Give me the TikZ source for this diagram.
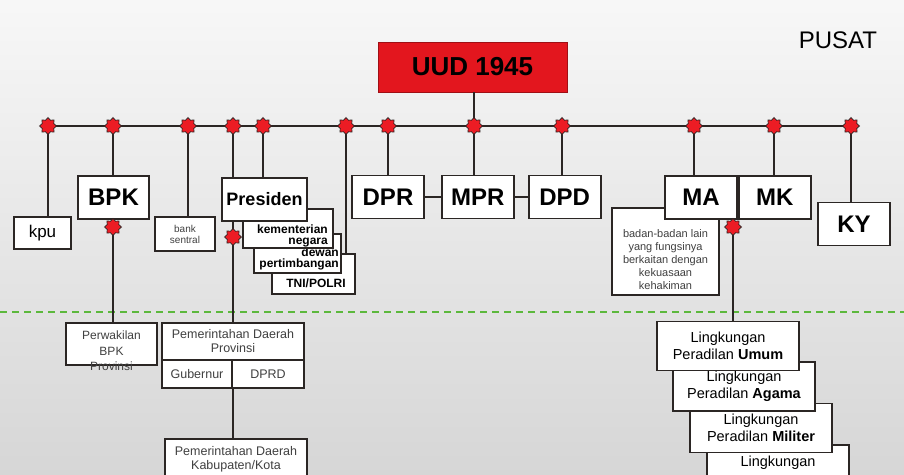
\documentclass[tikz,border=0pt]{standalone}
\usepackage{fontspec}
\setmainfont{Liberation Sans}
\usetikzlibrary{shapes.geometric, positioning}
\definecolor{uudred}{HTML}{E3161E}
\definecolor{dotred}{HTML}{EC1C24}
\definecolor{zonegreen}{HTML}{5CB83C}
\definecolor{linedark}{HTML}{2B2624}
\tikzset{
    link/.style={
        draw=linedark, line width=2.2pt
    },
    box/.style={
        rectangle, draw=linedark, line width=1.8pt, fill=white,
        inner sep=2pt, text centered
    },
    organ/.style={
        box, minimum width=72pt, minimum height=43pt,
        font=\fontsize{24}{28}\selectfont\bfseries
    },
    smallbox/.style={
        box, align=center, text=black!75,
        font=\fontsize{12.5}{14}\selectfont
    },
    courtbox/.style={
        box, minimum width=142pt, minimum height=49pt, align=center,
        font=\fontsize{14.5}{17.5}\selectfont
    },
    subtext/.style={
        inner sep=0pt, align=right, font=\fontsize{12}{10.5}\selectfont\bfseries
    },
    dot/.style={
        star, star points=8, star point ratio=1.35, minimum size=17pt,
        inner sep=0pt, fill=dotred, draw=linedark, line width=0.7pt
    },
    zoneline/.style={
        draw=zonegreen, line width=1.6pt, dash pattern=on 7pt off 5pt
    }
}

\begin{document}
\begin{tikzpicture}[x=1pt, y=-1pt]

    \useasboundingbox (0,0) rectangle (904,474);
    \clip (0,0) rectangle (904,474);
    \shade[top color=black!3, bottom color=black!16] (0,0) rectangle (904,474);

    \coordinate (zl) at (0,312);
    \coordinate (zr) at (904,312);
    \draw[zoneline] (zl) -- (zr);

    \node[box, fill=uudred, draw=uudred!70!black, line width=0.8pt,
          minimum width=189pt, minimum height=50pt,
          font=\fontsize{26}{30}\selectfont\bfseries] (uud) at (472.5,67) {UUD 1945};
    \node[font=\fontsize{24}{28}\selectfont] (pusat) at (838,40) {PUSAT};

    \foreach \name/\x in {b1/48, b2/113, b3/188, b4/233, b5/263, b6/346,
                          b7/388, b8/474, b9/562, b10/694, b11/774, b12/851}
        \coordinate (\name) at (\x,126);

    % left side
    \node[box, minimum width=57pt, minimum height=32pt, font=\fontsize{17}{20}\selectfont] (kpu) at (42.5,233) {kpu};
    \node[organ, minimum width=71pt] (bpk) at (113.5,197.5) {BPK};
    \node[smallbox, minimum width=60pt, minimum height=34pt, font=\fontsize{10}{11}\selectfont] (bank) at (185,234) {bank\\sentral};

    \node[box, minimum width=83pt, minimum height=40pt] (tni) at (313.5,274) {};
    \node[subtext, align=center] (tnit) at (316,283) {TNI/POLRI};
    \node[box, minimum width=87pt, minimum height=39pt] (dew) at (297.5,253.5) {};
    \node[subtext, anchor=east] (dewt) at (339,259) {dewan\\pertimbangan};
    \node[box, minimum width=90pt, minimum height=39pt] (kem) at (288,228.5) {};
    \node[subtext, anchor=east] (kemt) at (328,236) {kementerian\\negara};
    \node[box, minimum width=85pt, minimum height=43pt, font=\fontsize{18}{21}\selectfont\bfseries] (pres) at (264.5,199.5) {Presiden};

    % legislative
    \node[organ] (dpr) at (388,197) {DPR};
    \node[organ, right=16pt of dpr] (mpr) {MPR};
    \node[organ, right=13pt of mpr] (dpd) {DPD};

    % judicial
    \node[box, minimum width=107pt, minimum height=87pt] (badan) at (665.5,251.5) {};
    \node[align=center, text=black!75, font=\fontsize{11}{13}\selectfont] (badant) at (665.5,260)
        {badan-badan lain\\yang fungsinya\\berkaitan dengan\\kekuasaan\\kehakiman};
    \node[organ] (ma) at (701,197.5) {MA};
    \node[organ, right=0pt of ma] (mk) {MK};
    \node[organ] (ky) at (854,224) {KY};

    % daerah
    \node[box, minimum width=91pt, minimum height=42pt] (pbpk) at (111.5,344) {};
    \node[align=center, text=black!75, font=\fontsize{12}{15.5}\selectfont] (pbpkt) at (111.5,351)
        {Perwakilan\\BPK\\Provinsi};
    \node[smallbox, minimum width=142pt, minimum height=37pt] (prov) at (233,341.5) {Pemerintahan Daerah\\Provinsi};
    \node[smallbox, minimum width=70pt, minimum height=28pt] (gub) at (197,374) {Gubernur};
    \node[smallbox, minimum width=72pt, minimum height=28pt] (dprd) at (268,374) {DPRD};
    \node[smallbox, minimum width=142pt, minimum height=40pt] (kab) at (236,459) {Pemerintahan Daerah\\Kabupaten/Kota};

    \node[courtbox] (ling) at (778,469.5) {Lingkungan\\\mbox{}};
    \node[courtbox] (militer) at (761,428) {Lingkungan\\Peradilan \textbf{Militer}};
    \node[courtbox] (agama) at (744,386.5) {Lingkungan\\Peradilan \textbf{Agama}};
    \node[courtbox] (umum) at (728,346) {Lingkungan\\Peradilan \textbf{Umum}};

    % connectors
    \draw[link] (b1) -- (b12);
    \draw[link] (uud.south -| b8) -- (b8);
    \draw[link] (b1) -- (b1 |- kpu.north);
    \draw[link] (b2) -- (b2 |- bpk.north);
    \draw[link] (b3) -- (b3 |- bank.north);
    \draw[link] (b4) -- (b4 |- pres.north);
    \draw[link] (b5) -- (b5 |- pres.north);
    \draw[link] (b6) -- (b6 |- tni.north);
    \draw[link] (b7) -- (b7 |- dpr.north);
    \draw[link] (b8) -- (b8 |- mpr.north);
    \draw[link] (b9) -- (b9 |- dpd.north);
    \draw[link] (b10) -- (b10 |- ma.north);
    \draw[link] (b11) -- (b11 |- mk.north);
    \draw[link] (b12) -- (b12 |- ky.north);
    \draw[link] (dpr) -- (mpr);
    \draw[link] (mpr) -- (dpd);

    \coordinate (jbpk) at (113,227);
    \coordinate (jpres) at (233,237);
    \coordinate (jma) at (733,227);
    \draw[link] (bpk.south -| jbpk) -- (jbpk |- pbpk.north);
    \draw[link] (pres.south -| jpres) -- (jpres |- prov.north);
    \draw[link] (gub.south east) -- (gub.south east |- kab.north);
    \draw[link] (ma.south -| jma) -- (jma |- umum.north);

    \foreach \p in {b1,b2,b3,b4,b5,b6,b7,b8,b9,b10,b11,b12,jbpk,jpres,jma}
        \node[dot] (dot-\p) at (\p) {};

\end{tikzpicture}
\end{document}
